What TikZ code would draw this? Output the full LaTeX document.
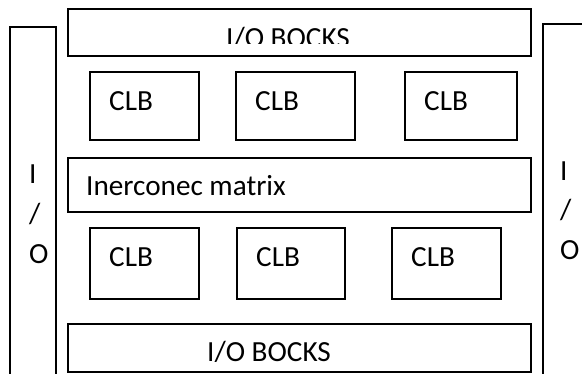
\documentclass[tikz,border=0pt]{standalone}
\usepackage{fontspec}
\setmainfont{Carlito}
\usetikzlibrary{calc}
\begin{document}
\begin{tikzpicture}[x=1bp,y=-1bp,
  box/.style={draw, line width=1.5bp, rectangle, inner sep=0pt, anchor=north west},
  lbl/.style={inner sep=0pt, anchor=base west, font=\fontsize{29.3}{35}\selectfont}]
\clip (0,0) rectangle (582,373);
\fill[white] (0,0) rectangle (582,373);
% side I/O columns
\node[box, minimum width=46bp, minimum height=370bp] (lcol) at (9,26) {};
\node[box, minimum width=60bp, minimum height=370bp] (rcol) at (542,23) {};
% long bars
\node[box, minimum width=463bp, minimum height=47bp] (topio) at (67,8) {};
\node[box, minimum width=463bp, minimum height=54bp] (mtx) at (67,157) {};
\node[box, minimum width=463bp, minimum height=48bp] (botio) at (67,323) {};
% CLB row 1
\node[box, minimum width=109bp, minimum height=68bp] (c11) at (89,71) {};
\node[box, minimum width=119bp, minimum height=68bp] (c12) at (235,71) {};
\node[box, minimum width=112bp, minimum height=68bp] (c13) at (404,71) {};
% CLB row 2
\node[box, minimum width=109bp, minimum height=71bp] (c21) at (89,227) {};
\node[box, minimum width=108bp, minimum height=71bp] (c22) at (236,227) {};
\node[box, minimum width=109bp, minimum height=71bp] (c23) at (391,227) {};
% CLB labels
\foreach \b in {c11,c12,c13,c21,c22,c23}{
  \node[lbl] (t\b) at ($(\b.north west)+(20,39)$) {CLB};
}
\node[lbl] (tmtx) at ($(mtx.north west)+(19,38)$) {Inerconec matrix};
% clipped I/O BOCKS labels
\begin{scope}
  \clip (67,8) rectangle (530,43.5);
  \node[lbl] (ttop) at ($(topio.north west)+(159,39)$) {I/O BOCKS};
\end{scope}
\begin{scope}
  \clip (67,323) rectangle (530,361.5);
  \node[lbl] (tbot) at ($(botio.north west)+(140,38)$) {I/O BOCKS};
\end{scope}
% column labels
\node[lbl] (l1) at (29,183) {I};
\node[lbl] (l2) at (29,223) {/};
\node[lbl] (l3) at (29,263) {O};
\node[lbl] (r1) at (560,180) {I};
\node[lbl] (r2) at (560,219.5) {/};
\node[lbl] (r3) at (560,259) {O};
\end{tikzpicture}
\end{document}
